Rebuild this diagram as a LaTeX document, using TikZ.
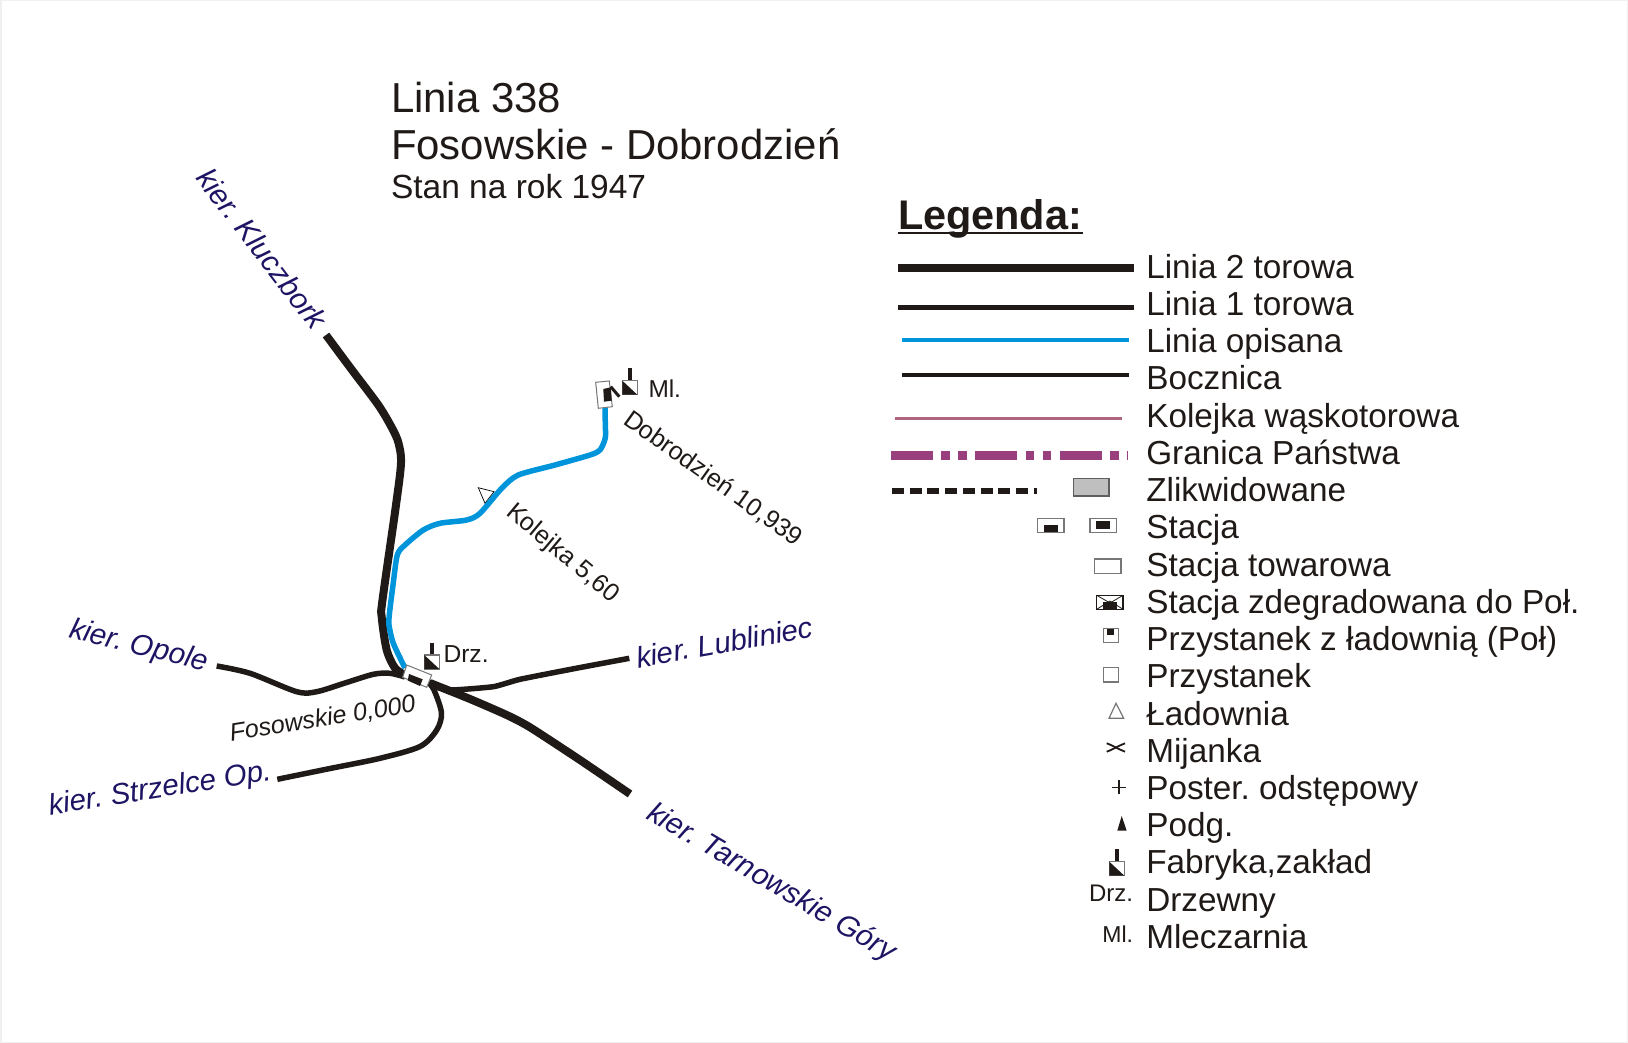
\documentclass[tikz,border=0pt]{standalone}
\usepackage{fontspec}
\setmainfont{Liberation Sans}
\frenchspacing
\newcommand{\fsz}[1]{\fontsize{#1pt}{#1pt}\selectfont}
\definecolor{ink}{HTML}{1F1A17}
\definecolor{navy}{HTML}{1D1464}
\definecolor{lineblue}{HTML}{0095DB}
\definecolor{narrow}{HTML}{B0657F}
\definecolor{border}{HTML}{993F7E}
\definecolor{framegray}{HTML}{F0F0F0}
\definecolor{symgray}{HTML}{777777}
\tikzset{
 x=1pt,y=-1pt,
 txt/.style={anchor=base west,inner sep=0pt,outer sep=0pt,text=ink},
 legtext/.style={txt,font=\frenchspacing\fsz{33.3}},
 title/.style={txt,font=\fsz{41.9}},
 dirlabel/.style={txt,text=navy,font=\frenchspacing\fsz{29.5}\itshape},
 kmlabel/.style={txt,font=\fsz{25.2}},
 rail/.style={draw=ink,line width=5.5pt,line cap=butt,line join=round},
 railthick/.style={draw=ink,line width=8pt,line cap=butt,line join=round},
 described/.style={draw=lineblue,line width=5.5pt,line cap=butt,line join=round},
 sym/.style={draw=symgray,line width=1.2pt,fill=white},
 blk/.style={fill=ink,draw=none},
}
\newcommand{\factory}[2]{%
 \fill[ink] (#1+5.8,#2-12.4) rectangle (#1+10,#2);
 \draw[sym] (#1,#2) rectangle (#1+15,#2+14);
 \fill[ink] (#1,#2) -- (#1+15,#2+14) -- (#1,#2+14) -- cycle;
}
\begin{document}
\begin{tikzpicture}
\useasboundingbox (0,0) rectangle (1628,1043);
\fill[white] (0,0) rectangle (1628,1043);
\draw[framegray,line width=3pt] (0,0) rectangle (1628,1043);

% --- title
\node[title] (t1) at (391,113) {Linia 338};
\node[title] (t2) at (391,160) {Fosowskie - Dobrodzień};
\node[legtext,font=\fsz{33.5}] (t3) at (391,198.5) {Stan na rok 1947};

% --- map lines
\draw[railthick] plot[smooth,tension=.5] coordinates {(326,335) (352,370) (378.3,405) (392,428) (398.5,443) (401,463) (396,505) (382.5,600) (381.7,617) (386.7,650) (395,668) (405,675)};
\draw[rail] plot[smooth,tension=.5] coordinates {(216.7,666) (250,673.3) (296.7,691.7) (316.7,691.7) (345,683) (373.3,674.3) (390,673.3) (405,677)};
\draw[rail] plot[smooth,tension=.5] coordinates {(277.3,779.3) (330,768.5) (380,758.3) (420,746.5) (436.7,730) (441.5,713) (434,690) (427,680)};
\draw[rail] plot[smooth,tension=.3] coordinates {(430,685) (450,690) (493.3,686.7) (520,679.3) (575,668.5) (629.3,658.3)};
\draw[railthick] plot[smooth,tension=.4] coordinates {(430,683) (470,699) (506.7,715) (530,727.3) (580,760) (630,794)};

% --- loading point
\draw[draw=black,line width=.7pt,fill=white] (478.3,487.7) -- (494,491.7) -- (485,503.3) -- cycle;
% --- described line
\draw[described] plot[smooth,tension=.45] coordinates {(605,407) (605.3,425) (605.3,438) (600,450) (590,455) (555,465) (518.3,475) (501.7,488.3) (480,513.3) (466.7,520) (440,523.3) (423.3,530) (405,545) (397.3,555) (393,585) (389.5,613) (389,625) (393.3,643.3) (405,668)};

% --- Fosowskie station
\draw[sym,line width=1pt] (406.7,665) -- (431.7,675) -- (426.7,687.3) -- (402.7,677.3) -- cycle;
\fill[blk] (409,674) -- (422.7,679.3) -- (420,686) -- (407.7,680.5) -- cycle;
\factory{424.3}{655}
\node[kmlabel,font=\fsz{24.6}] (drz) at (443.5,662.7) {Drz.};

% --- Dobrodzien station
\draw[sym,line width=1pt] (595.7,382.3) -- (609.3,381) -- (612.3,406.7) -- (598.3,408.3) -- cycle;
\fill[blk] (603.3,389) -- (610.7,387.3) -- (611.7,400.7) -- (604,401.7) -- cycle;
\draw[ink,line width=3pt] (610.7,386.7) -- (619.3,396.7);
\factory{622.3}{380.7}
\node[kmlabel,font=\fsz{24.4}] (ml) at (648.5,397.5) {Ml.};

% --- labels
\node[dirlabel,rotate=-52.5] (kl) at (195,179) {kier. Kluczbork};
\node[dirlabel,rotate=-14] (op) at (68,637) {kier. Opole};
\node[dirlabel,rotate=10] (lu) at (638,668) {kier. Lubliniec};
\node[dirlabel,rotate=9] (st) at (50,815) {kier. Strzelce Op.};
\node[dirlabel,rotate=-30.5] (ta) at (645,818) {kier. Tarnowskie Góry};
\node[kmlabel,font=\fsz{25}\itshape,rotate=9] (fo) at (231,741) {Fosowskie 0,000};
\node[kmlabel,rotate=-35.5] (do) at (622,423) {Dobrodzień 10,939};
\node[kmlabel,rotate=-40] (ko) at (505,514) {Kolejka 5,60};

% --- legend
\node[txt,font=\fsz{41.4}\bfseries] (lg) at (898,230) {Legenda:};
\draw[ink,line width=2pt] (898,233.5) -- (1083,233.5);
\draw[ink,line width=8pt] (898,268) -- (1134,268);
\draw[ink,line width=5.5pt] (898,307.3) -- (1134,307.3);
\draw[lineblue,line width=4pt] (902.3,339.5) -- (1129,339.5);
\draw[ink,line width=3.2pt] (902.3,375) -- (1129,375);
\draw[narrow,line width=3pt] (895,418.4) -- (1121.6,418.4);
\draw[border,line width=8.5pt,dash pattern=on 42pt off 8.3pt on 8.7pt off 8.3pt on 8.7pt off 8.3pt] (891,455.7) -- (1127.7,455.7);
\draw[ink,line width=6pt,dash pattern=on 12pt off 5.7pt] (892,490.7) -- (1036.7,490.7);
\draw[draw=symgray!80!black,line width=1.2pt,fill=black!25] (1073.3,478.3) rectangle (1109,496);
\draw[sym] (1037.7,518.3) rectangle (1064,532.3);
\fill[blk] (1044.3,525) rectangle (1057.7,532.3);
\draw[sym] (1090,518.3) rectangle (1116.3,532.3);
\fill[blk] (1096,521) rectangle (1110,528.7);
\draw[sym] (1094.7,559) rectangle (1121,573.3);
\draw[sym,draw=ink] (1096.7,595.3) rectangle (1123,609.3);
\draw[ink,line width=.8pt] (1096.7,595.3) -- (1110,603) -- (1123,595.3) (1096.7,609.3) -- (1110,601) -- (1123,609.3);
\fill[blk] (1103.3,602.3) rectangle (1116.7,609.3);
\draw[sym] (1103.3,628.3) rectangle (1118.3,642.7);
\fill[blk] (1106.7,629.3) rectangle (1114,635);
\draw[sym] (1103.3,667.3) rectangle (1118.3,682);
\draw[sym] (1116,703.3) -- (1123.7,718.3) -- (1109,718.3) -- cycle;
\draw[ink,line width=1.8pt] (1106.7,743.3) .. controls (1114,746) and (1118,749) .. (1125,751.7);
\draw[ink,line width=1.8pt] (1106.7,751.7) .. controls (1114,749) and (1118,746) .. (1125,743.3);
\draw[ink,line width=1.4pt] (1112,787.3) -- (1126,787.3) (1119,780.3) -- (1119,794.3);
\fill[ink] (1121.7,816) -- (1126.7,830.7) -- (1117.3,830.7) -- cycle;
\factory{1109.3}{861.7}
\node[kmlabel,font=\fsz{24},anchor=base east] (ldrz) at (1133,901.7) {Drz.};
\node[kmlabel,font=\fsz{23},anchor=base east] (lml) at (1133,942.7) {Ml.};

\node[legtext] (l1) at (1146.3,278) {Linia 2 torowa};
\node[legtext] (l2) at (1146.3,315.2) {Linia 1 torowa};
\node[legtext] (l3) at (1146.3,352.4) {Linia opisana};
\node[legtext] (l4) at (1146.3,389.6) {Bocznica};
\node[legtext] (l5) at (1146.3,427.5) {Kolejka wąskotorowa};
\node[legtext] (l6) at (1146.3,464) {Granica Państwa};
\node[legtext] (l7) at (1146.3,501.2) {Zlikwidowane};
\node[legtext] (l8) at (1146.3,538.4) {Stacja};
\node[legtext] (l9) at (1146.3,576.4) {Stacja towarowa};
\node[legtext] (l10) at (1146.3,613.6) {Stacja zdegradowana do Poł.};
\node[legtext] (l11) at (1146.3,650) {Przystanek z ładownią (Poł)};
\node[legtext] (l12) at (1146.3,687.2) {Przystanek};
\node[legtext] (l13) at (1146.3,725.2) {Ładownia};
\node[legtext] (l14) at (1146.3,762.4) {Mijanka};
\node[legtext] (l15) at (1146.3,799.6) {Poster. odstępowy};
\node[legtext] (l16) at (1146.3,836.8) {Podg.};
\node[legtext] (l17) at (1146.3,873.2) {Fabryka,zakład};
\node[legtext] (l18) at (1146.3,911.2) {Drzewny};
\node[legtext] (l19) at (1146.3,948.4) {Mleczarnia};
\end{tikzpicture}
\end{document}
